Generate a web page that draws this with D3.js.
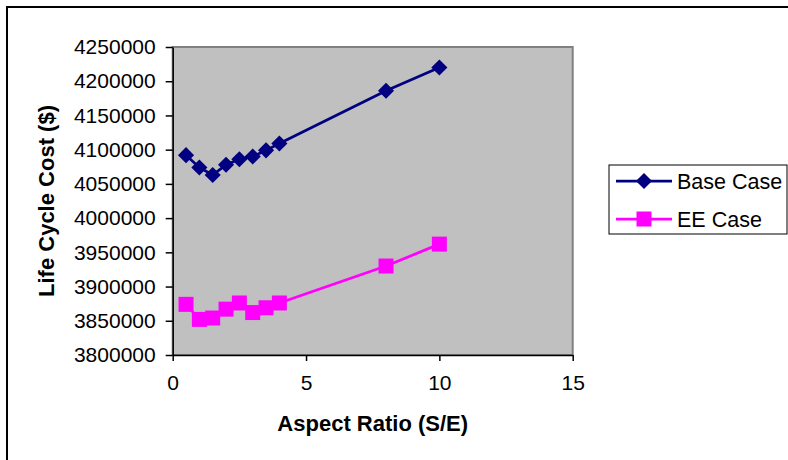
<!DOCTYPE html>
<html lang="en">
<head>
    <meta charset="UTF-8">
    <title>Life Cycle Cost vs Aspect Ratio</title>
    <script src="https://d3js.org/d3.v7.min.js"></script>
    <style>
        body {
            margin: 0;
            background: #fff;
            font-family: Arial, "Liberation Sans", sans-serif;
        }
        .axis text {
            font-size: 21px;
            fill: #000;
            font-family: Arial, "Liberation Sans", sans-serif;
        }
        .axis path, .axis line {
            stroke: #000;
            stroke-width: 1.5;
        }
        .axis-title {
            font-size: 22px;
            font-weight: bold;
        }
        .legend-text {
            font-size: 21.5px;
        }
    </style>
</head>
<body>
<div id="chart"></div>
<script>
    // data
    const aspectRatios = [0.5, 1, 1.5, 2, 2.5, 3, 3.5, 4, 8, 10];
    const baseCase = [4092000, 4074000, 4063000, 4078000, 4086000, 4090000, 4099000, 4109000, 4186000, 4220000];
    const eeCase = [3874000, 3852000, 3854000, 3867000, 3876000, 3862000, 3869000, 3876000, 3930000, 3962000];
    const xTicks = [0, 5, 10, 15];
    const yTicks = [3800000, 3850000, 3900000, 3950000, 4000000, 4050000, 4100000, 4150000, 4200000, 4250000];

    const width = 788, height = 460;
    const plot = {left: 172.7, right: 572.7, top: 47, bottom: 355};

    const svg = d3.select('#chart')
        .append('svg')
        .attr('width', width)
        .attr('height', height);

    // outer chart border (only top and left show in the crop)
    svg.append('rect')
        .attr('x', 7).attr('y', 7)
        .attr('width', width + 20).attr('height', height + 20)
        .attr('fill', '#fff')
        .attr('stroke', '#000')
        .attr('stroke-width', 2);

    const x = d3.scaleLinear().domain([0, 15]).range([plot.left, plot.right]);
    const y = d3.scaleLinear().domain([3800000, 4250000]).range([plot.bottom, plot.top]);

    // plot area
    svg.append('rect')
        .attr('x', plot.left).attr('y', plot.top)
        .attr('width', plot.right - plot.left)
        .attr('height', plot.bottom - plot.top)
        .attr('fill', '#c0c0c0')
        .attr('stroke', '#808080')
        .attr('stroke-width', 2);

    // axes
    svg.append('g')
        .attr('class', 'axis')
        .attr('transform', `translate(${plot.left},0)`)
        .call(d3.axisLeft(y).tickValues(yTicks).tickFormat(d3.format('d'))
            .tickSize(7).tickSizeOuter(0).tickPadding(10));

    svg.append('g')
        .attr('class', 'axis')
        .attr('transform', `translate(0,${plot.bottom})`)
        .call(d3.axisBottom(x).tickValues(xTicks).tickFormat(d3.format('d'))
            .tickSize(6).tickSizeOuter(0).tickPadding(14));

    // axis titles
    svg.append('text')
        .attr('class', 'axis-title')
        .attr('x', (plot.left + plot.right) / 2)
        .attr('y', 431)
        .attr('text-anchor', 'middle')
        .text('Aspect Ratio (S/E)');

    svg.append('text')
        .attr('class', 'axis-title')
        .attr('transform', `translate(54,${(plot.top + plot.bottom) / 2}) rotate(-90)`)
        .attr('text-anchor', 'middle')
        .text('Life Cycle Cost ($)');

    const series = [
        {name: 'Base Case', values: baseCase, color: '#000080', marker: 'diamond'},
        {name: 'EE Case', values: eeCase, color: '#ff00ff', marker: 'square'}
    ];

    const diamond = d3.symbol().type(d3.symbolSquare).size(130);
    const square = d3.symbol().type(d3.symbolSquare).size(225);

    series.forEach(s => {
        const pts = aspectRatios.map((a, i) => [a, s.values[i]]);
        svg.append('path')
            .datum(pts)
            .attr('fill', 'none')
            .attr('stroke', s.color)
            .attr('stroke-width', 2.75)
            .attr('d', d3.line().x(d => x(d[0])).y(d => y(d[1])));

        svg.selectAll(null)
            .data(pts)
            .enter().append('path')
            .attr('d', s.marker === 'diamond' ? diamond() : square())
            .attr('transform', d => `translate(${x(d[0])},${y(d[1])})` + (s.marker === 'diamond' ? ' rotate(45)' : ''))
            .attr('fill', s.color);
    });

    // legend
    const legend = svg.append('g');
    legend.append('rect')
        .attr('x', 609).attr('y', 165)
        .attr('width', 178).attr('height', 69)
        .attr('fill', '#fff')
        .attr('stroke', '#000')
        .attr('stroke-width', 1);

    series.forEach((s, i) => {
        const ly = 181 + i * 38;
        legend.append('line')
            .attr('x1', 616).attr('x2', 672)
            .attr('y1', ly).attr('y2', ly)
            .attr('stroke', s.color)
            .attr('stroke-width', 2.75);
        legend.append('path')
            .attr('d', s.marker === 'diamond' ? diamond() : square())
            .attr('transform', `translate(644,${ly})` + (s.marker === 'diamond' ? ' rotate(45)' : ''))
            .attr('fill', s.color);
        legend.append('text')
            .attr('class', 'legend-text')
            .attr('x', 677)
            .attr('y', ly + 7.5)
            .text(s.name);
    });
</script>
</body>
</html>
